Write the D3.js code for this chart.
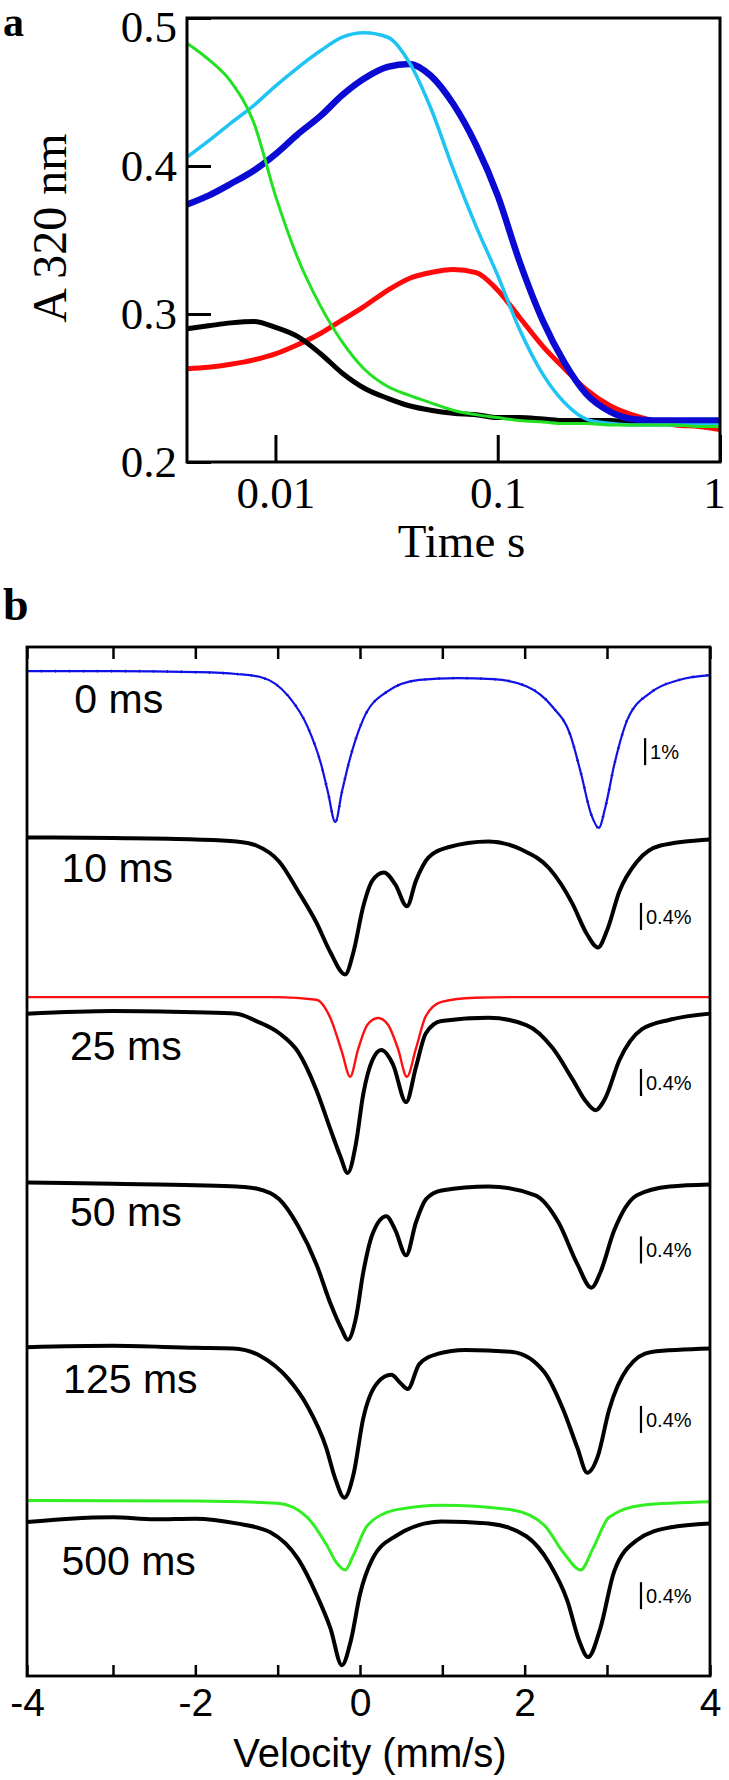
<!DOCTYPE html>
<html>
<head>
<meta charset="utf-8">
<script src="https://cdn.jsdelivr.net/npm/d3@7"></script>
<style>
  body { margin: 0; background: #fff; }
  svg { display: block; }
</style>
</head>
<body>
<div id="chart"></div>
<script>
// ---- panel a: A 320 nm vs time (log) ----
const aTime = [0.004, 0.005, 0.0063, 0.008, 0.01, 0.0125, 0.016, 0.02, 0.025, 0.032, 0.04, 0.05, 0.063,
  0.08, 0.1, 0.125, 0.16, 0.2, 0.25, 0.32, 0.4, 0.5, 0.63, 0.8, 1]
const aBlack = [0.290, 0.292, 0.294, 0.295, 0.291, 0.285, 0.273, 0.260, 0.250, 0.243, 0.238, 0.235, 0.233,
  0.232, 0.230, 0.230, 0.229, 0.228, 0.228, 0.228, 0.227, 0.227, 0.227, 0.227, 0.227]
const aRed = [0.263, 0.264, 0.266, 0.269, 0.273, 0.279, 0.287, 0.296, 0.305, 0.316, 0.324, 0.328, 0.330,
  0.328, 0.316, 0.298, 0.278, 0.263, 0.249, 0.238, 0.232, 0.228, 0.225, 0.224, 0.222]
const aBlue = [0.374, 0.380, 0.388, 0.397, 0.408, 0.421, 0.434, 0.448, 0.459, 0.467, 0.469, 0.461, 0.442,
  0.414, 0.380, 0.336, 0.295, 0.267, 0.246, 0.234, 0.229, 0.228, 0.228, 0.228, 0.228]
const aCyan = [0.406, 0.417, 0.429, 0.441, 0.454, 0.466, 0.478, 0.487, 0.490, 0.487, 0.470, 0.439, 0.398,
  0.359, 0.326, 0.290, 0.259, 0.240, 0.229, 0.226, 0.225, 0.225, 0.225, 0.225, 0.225]
const aGreen = [0.483, 0.472, 0.457, 0.429, 0.380, 0.339, 0.305, 0.281, 0.263, 0.251, 0.245, 0.240, 0.235,
  0.232, 0.230, 0.228, 0.227, 0.226, 0.226, 0.225, 0.225, 0.225, 0.225, 0.224, 0.224]
const aXTicks = [0.01, 0.1, 1]
const aYTicks = [0.2, 0.3, 0.4, 0.5]

// ---- panel b: Mossbauer spectra, absorption (%) below each baseline ----
const v0 = [-4, -3, -2, -1.5, -1.21, -0.87, -0.64, -0.47, -0.39, -0.3, -0.22, -0.13, 0.04, 0.32, 0.72, 1.17,
  1.62, 2.02, 2.34, 2.55, 2.68, 2.81, 2.9, 2.98, 3.07, 3.2, 3.43, 3.7, 4]
const d0 = [0, 0, 0.04, 0.11, 0.22, 0.93, 2.04, 3.48, 4.48, 5.59, 4.48, 3.33, 1.78, 0.78, 0.33, 0.26,
  0.30, 0.56, 1.33, 2.33, 3.74, 5.33, 5.81, 5.04, 3.48, 1.78, 0.78, 0.33, 0.15]
const v10 = [-4, -3, -2, -1.5, -1.26, -0.98, -0.75, -0.53, -0.36, -0.18, -0.08, 0.04, 0.15, 0.29, 0.43, 0.57,
  0.68, 0.83, 1.06, 1.56, 1.96, 2.3, 2.58, 2.75, 2.89, 3.0, 3.12, 3.29, 3.52, 4]
const d10 = [0, 0.01, 0.03, 0.06, 0.12, 0.36, 0.80, 1.26, 1.70, 2.03, 1.70, 1.02, 0.64, 0.52, 0.70, 1.02,
  0.64, 0.30, 0.15, 0.06, 0.18, 0.46, 0.98, 1.42, 1.63, 1.38, 0.80, 0.36, 0.12, 0.03]
const v25 = [-4, -3, -2, -1.5, -1.26, -0.98, -0.75, -0.53, -0.36, -0.24, -0.15, -0.05, 0.04, 0.15, 0.26, 0.4,
  0.56, 0.68, 0.8, 0.99, 1.56, 2.02, 2.34, 2.58, 2.75, 2.86, 2.98, 3.12, 3.34, 3.61, 4]
const d25 = [0.01, -0.03, -0.01, 0.01, 0.12, 0.30, 0.58, 1.14, 1.72, 2.12, 2.37, 1.94, 1.20, 0.70, 0.55, 0.76,
  1.32, 0.80, 0.30, 0.12, 0.07, 0.18, 0.52, 0.98, 1.32, 1.44, 1.26, 0.70, 0.24, 0.10, 0.01]
const v50 = [-4, -3, -2, -1.5, -1.26, -0.98, -0.75, -0.53, -0.36, -0.22, -0.15, -0.05, 0.04, 0.15, 0.32, 0.43,
  0.56, 0.68, 0.8, 0.99, 1.56, 2.13, 2.41, 2.64, 2.81, 2.92, 3.07, 3.29, 3.61, 4]
const d50 = [-0.03, -0.01, 0.01, 0.03, 0.06, 0.22, 0.62, 1.18, 1.76, 2.15, 2.30, 1.98, 1.30, 0.74, 0.47, 0.68,
  1.05, 0.56, 0.22, 0.09, 0.03, 0.16, 0.56, 1.18, 1.53, 1.30, 0.68, 0.16, 0.03, 0]
const v125 = [-4, -3, -2, -1.54, -1.21, -0.87, -0.64, -0.41, -0.3, -0.19, -0.08, 0.04, 0.21, 0.38, 0.49, 0.58,
  0.72, 0.94, 1.28, 1.85, 2.24, 2.47, 2.64, 2.76, 2.89, 3.02, 3.2, 3.43, 4]
const d125 = [-0.01, -0.03, 0, 0.01, 0.12, 0.46, 0.86, 1.48, 1.94, 2.22, 1.88, 1.04, 0.52, 0.40, 0.52, 0.61,
  0.24, 0.09, 0.03, 0.06, 0.36, 0.92, 1.48, 1.85, 1.60, 0.92, 0.30, 0.06, 0.01]
const v500 = [-4, -3.5, -3, -2.5, -2, -1.5, -1.09, -0.75, -0.53, -0.36, -0.22, -0.11, 0, 0.15, 0.43, 0.99,
  1.56, 2.02, 2.3, 2.52, 2.66, 2.77, 2.92, 3.07, 3.29, 3.61, 4]
const d500 = [0.01, -0.04, -0.06, -0.03, -0.04, 0.03, 0.16, 0.56, 1.08, 1.58, 2.13, 1.76, 1.08, 0.56, 0.22, 0,
  0.03, 0.22, 0.62, 1.18, 1.76, 2.01, 1.58, 0.74, 0.28, 0.09, 0.03]
// fitted components
const vRed = [-4, -2, -1, -0.53, -0.36, -0.22, -0.12, -0.02, 0.09, 0.22, 0.34, 0.46, 0.57, 0.68, 0.8, 0.99, 1.39, 2, 4]
const dRed = [0, 0, 0, 0.04, 0.31, 0.81, 1.18, 0.76, 0.41, 0.31, 0.41, 0.76, 1.18, 0.76, 0.28, 0.07, 0.01, 0, 0]
const vGreen = [-4, -2, -1, -0.64, -0.41, -0.28, -0.18, -0.08, 0.09, 0.43, 0.99, 1.85, 2.24, 2.47, 2.68, 2.83, 3.02, 3.34, 4]
const dGreen = [-0.01, 0, 0.03, 0.24, 0.64, 0.92, 1.02, 0.80, 0.36, 0.13, 0.06, 0.13, 0.36, 0.76, 1.02, 0.70, 0.24, 0.06, 0.01]

const specNames = ['0 ms', '10 ms', '25 ms', '50 ms', '125 ms', '500 ms']
const specPct = [1, 0.4, 0.4, 0.4, 0.4, 0.4]          // scale bar value
const specOffset = [0.356, 2.82, 5.42, 7.96, 10.38, 12.95] // stacking offset (%)
const barAt = [1.35, 3.79, 6.25, 8.73, 11.24, 13.85]
const labelAt = [0.98, 3.48, 6.12, 8.58, 11.05, 13.75]
const labelV = [-3.45, -3.6, -3.5, -3.5, -3.58, -3.6]
const redOffset = 5.185
const greenOffset = 12.65
const bXTicks = [-4, -3, -2, -1, 0, 1, 2, 3, 4]

const W = 729, H = 1780
const SERIF = 'Liberation Serif, Times New Roman, serif'
const SANS = 'Liberation Sans, Arial, Helvetica, sans-serif'

const svg = d3.select('#chart').append('svg')
  .attr('width', W)
  .attr('height', H)

// ================= panel a =================
const ax = d3.scaleLog().domain([0.004, 1]).range([187, 720])
const ay = d3.scaleLinear().domain([0.2, 0.5]).range([462, 18])

const gA = svg.append('g')

const xAxisA = gA.append('g')
  .attr('transform', `translate(0, ${ay(0.2)})`)
  .call(d3.axisBottom(ax).tickValues(aXTicks).tickSize(-27).tickPadding(14)
    .tickFormat(d => d === 1 ? '1' : String(d)))
const yAxisA = gA.append('g')
  .attr('transform', `translate(${ax(0.004)}, 0)`)
  .call(d3.axisLeft(ay).tickValues(aYTicks).tickSize(-24).tickPadding(10).tickFormat(d3.format('.1f')))

for (const g of [xAxisA, yAxisA]) {
  g.select('.domain').remove()
  g.selectAll('.tick line').attr('stroke', '#000').attr('stroke-width', 3)
  g.selectAll('.tick text').attr('fill', '#000').attr('font-family', SERIF).attr('font-size', 45)
}
// keep the "1" and the "0.5" inside the page
xAxisA.selectAll('.tick text').filter(d => d === 1).attr('dx', -6)
yAxisA.selectAll('.tick text').filter(d => d === 0.5).attr('dy', '0.53em')

const lineA = d3.line()
  .curve(d3.curveMonotoneX)
  .x((d, i) => ax(aTime[i]))
  .y(d => ay(d))

const aSeries = [
  {vals: aRed, color: '#ff0a0a', w: 5},
  {vals: aBlack, color: '#000000', w: 5},
  {vals: aBlue, color: '#0a0ad2', w: 6.5},
  {vals: aCyan, color: '#20c4f4', w: 3.5},
  {vals: aGreen, color: '#22e022', w: 3}
]
aSeries.forEach(s => {
  gA.append('path')
    .datum(s.vals)
    .attr('fill', 'none')
    .attr('stroke', s.color)
    .attr('stroke-width', s.w)
    .attr('stroke-linejoin', 'round')
    .attr('d', lineA)
})

gA.append('rect')
  .attr('x', ax(0.004)).attr('y', ay(0.5))
  .attr('width', ax(1) - ax(0.004)).attr('height', ay(0.2) - ay(0.5))
  .attr('fill', 'none').attr('stroke', '#000').attr('stroke-width', 3)

gA.append('text')
  .attr('x', (ax(0.004) + ax(1)) / 2 + 8)
  .attr('y', 557)
  .attr('text-anchor', 'middle')
  .attr('font-family', SERIF).attr('font-size', 47)
  .text('Time s')

gA.append('text')
  .attr('transform', `translate(66, ${(ay(0.2) + ay(0.5)) / 2 - 12}) rotate(-90)`)
  .attr('text-anchor', 'middle')
  .attr('font-family', SERIF).attr('font-size', 48)
  .text('A 320 nm')

svg.append('text')
  .attr('x', 3).attr('y', 36)
  .attr('font-family', SERIF).attr('font-weight', 'bold').attr('font-size', 42)
  .text('a')

// ================= panel b =================
const bx = d3.scaleLinear().domain([-4, -3, 3, 4]).range([27, 113, 607, 710])
const by = d3.scaleLinear().domain([0, 15.24]).range([647, 1676])

const gB = svg.append('g')

const xAxisB = gB.append('g')
  .attr('transform', `translate(0, ${by(15.24)})`)
  .call(d3.axisBottom(bx).tickValues(bXTicks).tickSize(-11).tickPadding(12)
    .tickFormat(d => d % 2 === 0 ? String(d) : ''))
const topAxisB = gB.append('g')
  .attr('transform', `translate(0, ${by(0)})`)
  .call(d3.axisTop(bx).tickValues(bXTicks).tickSize(-12).tickFormat(''))

for (const g of [xAxisB, topAxisB]) {
  g.select('.domain').remove()
  g.selectAll('.tick line').attr('stroke', '#000').attr('stroke-width', 2.5)
  g.selectAll('.tick text').attr('fill', '#000').attr('font-family', SANS).attr('font-size', 39)
}

const specV = [v0, v10, v25, v50, v125, v500]
const specD = [d0, d10, d25, d50, d125, d500]

function lineB(vs, offset, pct) {
  return d3.line()
    .curve(d3.curveMonotoneX)
    .x((d, i) => bx(vs[i]))
    .y(d => by(offset + d * 0.4 / pct))
}

specD.forEach((ds, k) => {
  const gen = lineB(specV[k], specOffset[k], specPct[k])
  if (k === 0) {
    // a few data points peek out from under the blue fit
    gB.append('path').datum(ds)
      .attr('fill', 'none').attr('stroke', '#000').attr('stroke-width', 2.8)
      .attr('stroke-dasharray', '1,13')
      .attr('d', gen)
    gB.append('path').datum(ds)
      .attr('fill', 'none').attr('stroke', '#1010e8').attr('stroke-width', 2.2)
      .attr('d', gen)
  } else {
    gB.append('path').datum(ds)
      .attr('fill', 'none').attr('stroke', '#000').attr('stroke-width', 4)
      .attr('stroke-linejoin', 'round')
      .attr('d', gen)
  }

  // label
  gB.append('text')
    .attr('x', bx(labelV[k])).attr('y', by(labelAt[k]))
    .attr('font-family', SANS).attr('font-size', 41)
    .text(specNames[k])

  // scale bar
  const bxPos = bx(k === 0 ? 3.37 : 3.33)
  gB.append('line')
    .attr('x1', bxPos).attr('x2', bxPos)
    .attr('y1', by(barAt[k])).attr('y2', by(barAt[k] + 0.4))
    .attr('stroke', '#000').attr('stroke-width', 2.2)
  gB.append('text')
    .attr('x', bxPos + 5).attr('y', by(barAt[k] + 0.2))
    .attr('dy', '0.36em')
    .attr('font-family', SANS).attr('font-size', 20)
    .text(specPct[k] + '%')
})

gB.append('path').datum(dRed)
  .attr('fill', 'none').attr('stroke', '#ff1010').attr('stroke-width', 2.4)
  .attr('d', lineB(vRed, redOffset, 0.4))
gB.append('path').datum(dGreen)
  .attr('fill', 'none').attr('stroke', '#33ee22').attr('stroke-width', 3)
  .attr('d', lineB(vGreen, greenOffset, 0.4))

gB.append('rect')
  .attr('x', bx(-4)).attr('y', by(0))
  .attr('width', bx(4) - bx(-4)).attr('height', by(15.24) - by(0))
  .attr('fill', 'none').attr('stroke', '#000').attr('stroke-width', 2.8)

gB.append('text')
  .attr('x', 370).attr('y', 1767)
  .attr('text-anchor', 'middle')
  .attr('font-family', SANS).attr('font-size', 40)
  .text('Velocity (mm/s)')

svg.append('text')
  .attr('x', 3).attr('y', 620)
  .attr('font-family', SERIF).attr('font-weight', 'bold').attr('font-size', 46)
  .text('b')
</script>
</body>
</html>
